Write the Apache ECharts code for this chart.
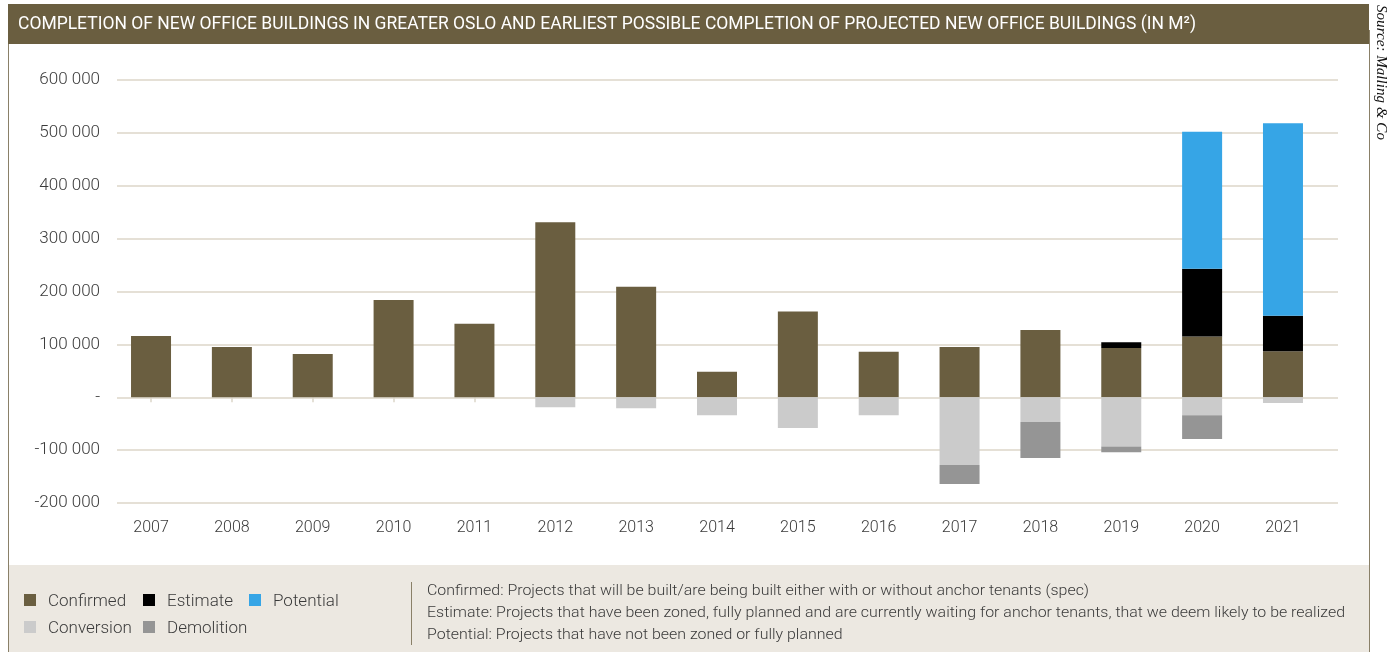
<!DOCTYPE html>
<html>
<head>
<meta charset="utf-8">
<script src="https://cdn.jsdelivr.net/npm/echarts@6/dist/echarts.min.js"></script>
<style>
html,body{margin:0;padding:0;background:#fff;}
#chart{width:1389px;height:652px;}
</style>
</head>
<body>
<div id="chart"></div>
<script>
// ---- data ----
const years = ['2007','2008','2009','2010','2011','2012','2013','2014','2015','2016','2017','2018','2019','2020','2021'];
const confirmed  = [116000, 95000, 82000, 184000, 139000, 331000, 209000, 48000, 162000, 86000, 95000, 127000, 93000, 115000, 87000];
const estimate   = [null, null, null, null, null, null, null, null, null, null, null, null, 11000, 128000, 67000];
const potential  = [null, null, null, null, null, null, null, null, null, null, null, null, null, 259000, 364000];
const conversion = [null, null, null, null, null, -19000, -21000, -34000, -58000, -34000, -128000, -47000, -93000, -34000, -11000];
const demolition = [null, null, null, null, null, null, null, null, null, null, -36000, -68000, -11000, -45000, null];
const seriesNames = ['Confirmed', 'Estimate', 'Potential', 'Conversion', 'Demolition'];
const titleText = 'COMPLETION OF NEW OFFICE BUILDINGS IN GREATER OSLO AND EARLIEST POSSIBLE COMPLETION OF PROJECTED NEW OFFICE BUILDINGS (IN M\u00B2)';
const sourceText = 'Source: Malling & Co';
const notes = [
  'Confirmed: Projects that will be built/are being built either with or without anchor tenants (spec)',
  'Estimate: Projects that have been zoned, fully planned and are currently waiting for anchor tenants, that we deem likely to be realized',
  'Potential: Projects that have not been zoned or fully planned'
];

// ---- style ----
const colors = ['#6a5e40', '#000000', '#36a5e6', '#cbcbcb', '#959595'];
const gridColor = '#dcd6c9';
const FONT = 'Roboto';
const textColor = '#3a3a3a';

const ctx = document.createElement('canvas').getContext('2d');
function measure(t, font) { ctx.font = font; return ctx.measureText(t).width; }
const titleScale = 1178 / measure(titleText, '18px ' + FONT);
const noteScale = 918 / measure(notes[1], '300 15px ' + FONT);
const sourceFont = 'italic 15px "Liberation Serif"';
const sourceScale = 135 / measure(sourceText, sourceFont);

function fmt(v) {
  if (v === 0) return '-';
  const s = String(Math.abs(v)).replace(/\B(?=(\d{3})+(?!\d))/g, ' ');
  return (v < 0 ? '-' : '') + s;
}

const data = [confirmed, estimate, potential, conversion, demolition];
const series = data.map((d, i) => ({
  name: seriesNames[i],
  type: 'bar',
  stack: 'total',
  xAxisIndex: 0,
  yAxisIndex: 0,
  barWidth: 40,
  itemStyle: { color: colors[i] },
  data: d
}));

const graphics = [
  { type: 'rect', shape: { x: 8, y: 4, width: 1361, height: 40 }, style: { fill: '#6a5e40' }, z: 10 },
  { type: 'text', x: 18, y: 24, scaleX: titleScale, originX: 0, originY: 0, z: 11,
    style: { text: titleText, fill: '#ffffff', font: '18px ' + FONT, textVerticalAlign: 'middle', textAlign: 'left' } },
  { type: 'line', shape: { x1: 8.5, y1: 44, x2: 8.5, y2: 652 }, style: { stroke: '#8a8068', lineWidth: 1 }, z: 10 },
  { type: 'line', shape: { x1: 1369.5, y1: 30, x2: 1369.5, y2: 652 }, style: { stroke: '#8a8068', lineWidth: 1 }, z: 10 },
  { type: 'text', x: 1381, y: 5, rotation: -Math.PI / 2, scaleX: sourceScale, originX: 0, originY: 0, z: 11,
    style: { text: sourceText, fill: '#111', font: sourceFont, textVerticalAlign: 'middle', textAlign: 'left' } },
  { type: 'rect', shape: { x: 9, y: 565, width: 1360, height: 87 }, style: { fill: '#ece8e1' }, z: 9 },
  { type: 'line', shape: { x1: 411.5, y1: 582, x2: 411.5, y2: 645 }, style: { stroke: '#8a8068', lineWidth: 1 }, z: 10 }
];

const legendPos = [[24, 601], [143, 601], [249, 601], [24, 628], [143, 628]];
seriesNames.forEach((n, i) => {
  const [lx, ly] = legendPos[i];
  graphics.push({ type: 'rect', shape: { x: lx, y: ly - 7, width: 12, height: 12 }, style: { fill: colors[i] }, z: 11 });
  graphics.push({ type: 'text', x: lx + 24, y: ly + 1, scaleX: noteScale, originX: 0, originY: 0, z: 11,
    style: { text: n, fill: textColor, font: '300 16px ' + FONT, textVerticalAlign: 'middle', textAlign: 'left' } });
});
notes.forEach((t, i) => {
  graphics.push({ type: 'text', x: 427, y: 591 + i * 22, scaleX: noteScale, originX: 0, originY: 0, z: 11,
    style: { text: t, fill: textColor, font: '300 15px ' + FONT, textVerticalAlign: 'middle', textAlign: 'left' } });
});

const chart = echarts.init(document.getElementById('chart'), null, { renderer: 'canvas' });
chart.setOption({
  animation: false,
  backgroundColor: '#ffffff',
  textStyle: { fontFamily: FONT },
  grid: [
    { left: 110.6, right: 65.6, top: 80, height: 423, containLabel: false },
    { left: 117, right: 51, top: 80, height: 423, containLabel: false }
  ],
  xAxis: [
    { type: 'category', gridIndex: 0, data: years,
      axisLine: { show: false },
      axisTick: { show: true, alignWithLabel: true, length: 5, lineStyle: { color: gridColor, width: 1.5 } },
      axisLabel: { color: textColor, fontSize: 16, fontWeight: 300, margin: 17, fontFamily: FONT },
      splitLine: { show: false } },
    { type: 'value', gridIndex: 1, min: 0, max: 1, show: false }
  ],
  yAxis: [
    { type: 'value', gridIndex: 0, min: -200000, max: 600000, interval: 100000, show: false,
      splitLine: { show: false } },
    { type: 'value', gridIndex: 1, min: -200000, max: 600000, interval: 100000,
      axisLine: { show: false }, axisTick: { show: false },
      axisLabel: { color: textColor, fontSize: 17, fontWeight: 300, margin: 17, fontFamily: FONT, formatter: fmt },
      splitLine: { show: true, lineStyle: { color: gridColor, width: 1.5 } } }
  ],
  series: series,
  graphic: { elements: graphics }
});
</script>
</body>
</html>
